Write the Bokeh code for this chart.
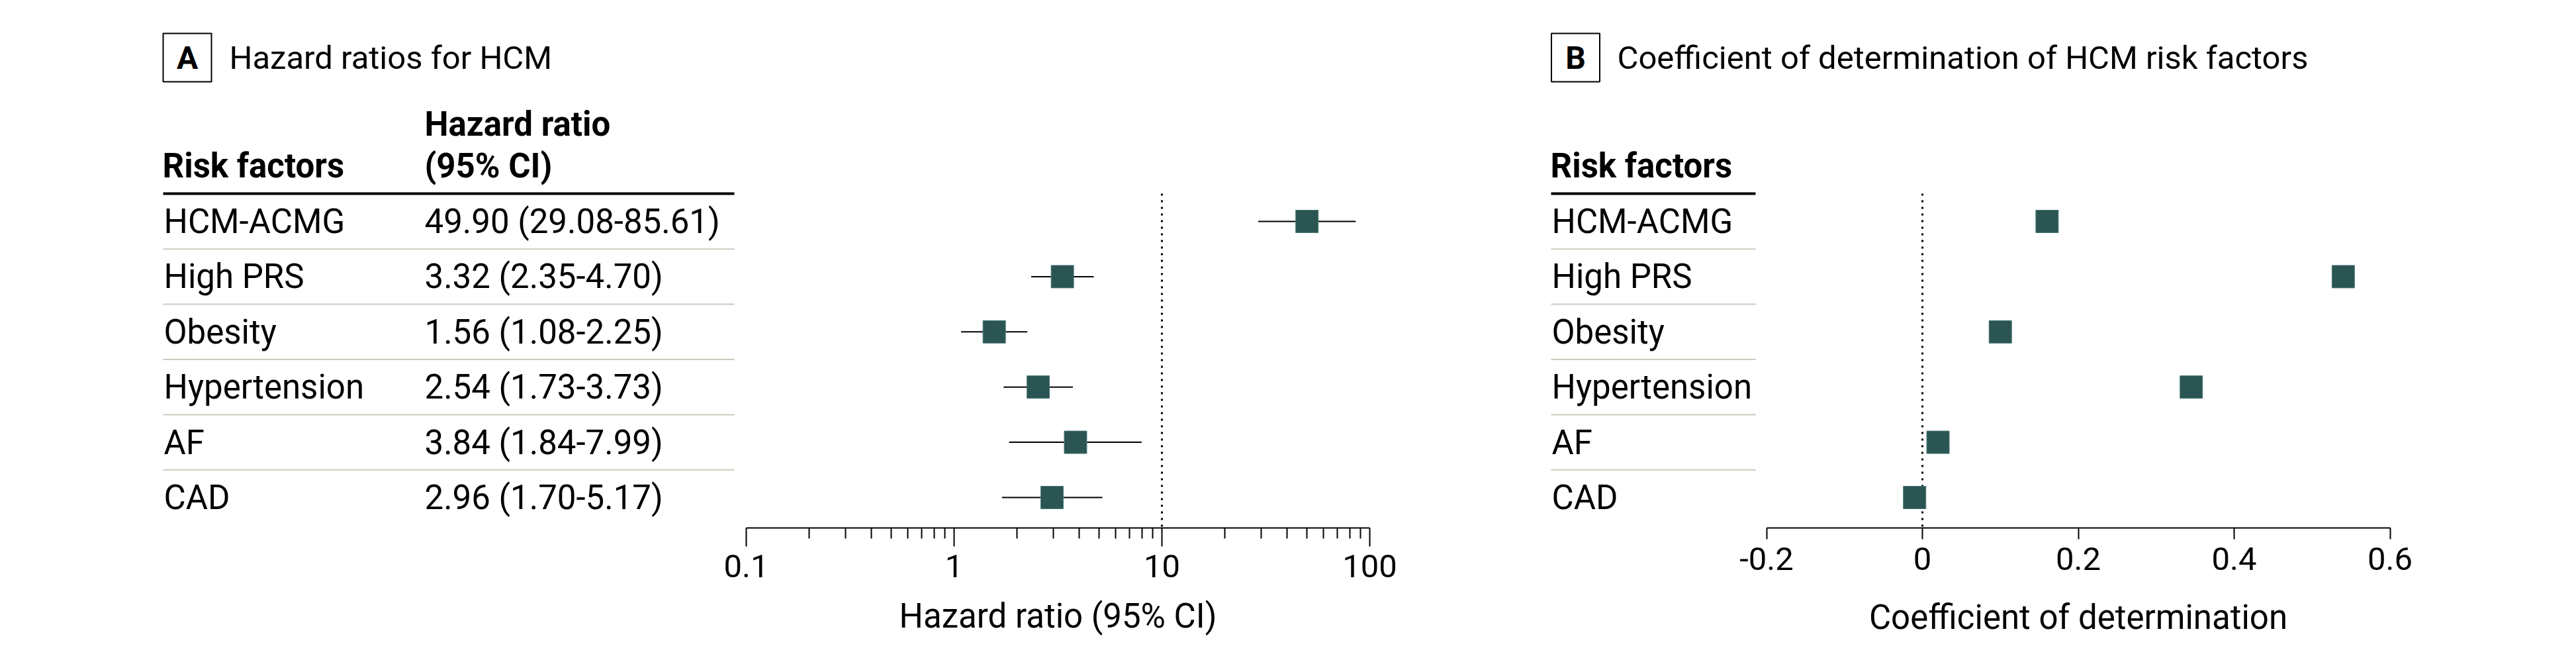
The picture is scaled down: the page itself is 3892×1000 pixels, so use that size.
import math
from bokeh.plotting import figure
from bokeh.models import Range1d, LogAxis, LinearAxis, FixedTicker
from bokeh.layouts import row
from bokeh.embed import file_html
from bokeh.resources import INLINE
from bokeh.core.properties import value

# ---------------- data ----------------
risk_factors = ["HCM-ACMG", "High PRS", "Obesity", "Hypertension", "AF", "CAD"]
hazard_ratio = [49.90, 3.32, 1.56, 2.54, 3.84, 2.96]
ci_lower = [29.08, 2.35, 1.08, 1.73, 1.84, 1.70]
ci_upper = [85.61, 4.70, 2.25, 3.73, 7.99, 5.17]
r2_values = [0.16, 0.54, 0.10, 0.345, 0.02, -0.01]

hr_ticks = [0.1, 1, 10, 100]
hr_tick_labels = ["0.1", "1", "10", "100"]
r2_ticks = [-0.2, 0, 0.2, 0.4, 0.6]
r2_tick_labels = ["-0.2", "0", "0.2", "0.4", "0.6"]

title_a = "Hazard ratios for HCM"
title_b = "Coefficient of determination of HCM risk factors"
xlabel_a = "Hazard ratio (95% CI)"
xlabel_b = "Coefficient of determination"
ref_a = 10
ref_b = 0

# ---------------- styling / layout ----------------
FONT = "Roboto"
FS = "51px"
TITLE_FS = "49px"
TEAL = "#2b5553"
TEAL_EDGE = "#4a7a77"
SEP = "#c9cbbe"

# the Bokeh page template has no body margin: the row starts at page (0, 0)
PAGE_X0, PAGE_Y0 = 0, 0
FIG_H = 992
A_W, B_W = 2250, 1620
ROW0_Y, ROW_H = 334, 83.4
AXIS_Y = 797

A_X01, DEC = 1127, 314          # page x of 0.1, pixels per decade
B_X0, B_UNIT = 2904, 1177.5     # page x of 0, pixels per unit


def ydat(py):
    return (py - ROW0_Y) / ROW_H


def ax(px):
    return 10 ** (-1 + (px - A_X01) / DEC)


def bx(px):
    return (px - B_X0) / B_UNIT


rows = list(range(len(risk_factors)))
hr_text = [f"{h:.2f} ({lo:.2f}-{hi:.2f})" for h, lo, hi in zip(hazard_ratio, ci_lower, ci_upper)]


def make_fig(width, x_range, log):
    kw = dict(width=width, height=FIG_H, x_range=x_range,
              y_range=Range1d(ydat(PAGE_Y0 + FIG_H), ydat(PAGE_Y0)),
              x_axis_location=None, y_axis_location=None,
              toolbar_location=None, output_backend="svg", title=None,
              min_border=0, outline_line_color=None,
              background_fill_color="white", border_fill_color="white")
    if log:
        kw["x_axis_type"] = "log"
    p = figure(**kw)
    p.grid.visible = False
    return p


def txt(p, x, y, t, size=FS, style="normal", align="left"):
    p.text(x=x, y=y, text=t, text_font=value(FONT), text_font_size=size,
           text_font_style=style, text_align=align, text_baseline="middle",
           text_color="black")


def style_axis(a, tick_out, minor_out):
    a.axis_line_width = 2
    a.axis_line_color = "black"
    a.major_tick_line_width = 2
    a.minor_tick_line_width = 2
    a.major_tick_in = 0
    a.minor_tick_in = 0
    a.major_tick_out = tick_out
    a.minor_tick_out = minor_out
    a.major_label_text_font = FONT
    a.major_label_text_font_size = "49px"
    a.major_label_text_color = "black"
    a.major_label_standoff = 12


# ================= Panel A =================
pa = make_fig(A_W, Range1d(ax(PAGE_X0), ax(PAGE_X0 + A_W)), True)

pa.rect(x=[ax(282.5)], y=[ydat(86.5)], width=73, height=73, width_units="screen",
        height_units="screen", fill_color=None, line_color="black", line_width=2)
txt(pa, [ax(282.5)], [ydat(86.5)], ["A"], size="48px", style="bold", align="center")
txt(pa, [ax(346)], [ydat(87)], [title_a], size=TITLE_FS)

txt(pa, [ax(245)], [ydat(250)], ["Risk factors"], style="bold")
txt(pa, [ax(641)], [ydat(187)], ["Hazard ratio"], style="bold")
txt(pa, [ax(641)], [ydat(250)], ["(95% CI)"], style="bold")
pa.segment(x0=[ax(246)], x1=[ax(1109)], y0=[ydat(292)], y1=[ydat(292)],
           line_color="black", line_width=4)

sep_y = [r + 0.5 for r in rows[:-1]]
pa.segment(x0=[ax(246)] * len(sep_y), x1=[ax(1109)] * len(sep_y), y0=sep_y, y1=sep_y,
           line_color=SEP, line_width=2)

txt(pa, [ax(247)] * len(rows), rows, risk_factors)
txt(pa, [ax(641)] * len(rows), rows, hr_text)

pa.segment(x0=[ref_a], x1=[ref_a], y0=[ydat(292)], y1=[ydat(AXIS_Y)],
           line_color="black", line_width=3, line_dash="3 7")

pa.segment(x0=ci_lower, x1=ci_upper, y0=rows, y1=rows, line_color="black", line_width=2)
pa.scatter(x=hazard_ratio, y=rows, marker="square", size=34,
           fill_color=TEAL, line_color=TEAL_EDGE, line_width=1)

hr_minor = [k * 10 ** e for e in (-1, 0, 1) for k in range(2, 10)]
axa = LogAxis(fixed_location=ydat(AXIS_Y), bounds=(hr_ticks[0], hr_ticks[-1]),
              ticker=FixedTicker(ticks=hr_ticks, minor_ticks=hr_minor),
              major_label_overrides={t: l for t, l in zip(hr_ticks, hr_tick_labels)})
style_axis(axa, 28, 16)
pa.add_layout(axa, "below")

txt(pa, [math.sqrt(hr_ticks[0] * hr_ticks[-1])], [ydat(930)], [xlabel_a], align="center")

# ================= Panel B =================
pb = make_fig(B_W, Range1d(bx(PAGE_X0 + A_W), bx(PAGE_X0 + A_W + B_W)), False)

pb.rect(x=[bx(2380)], y=[ydat(86.5)], width=73, height=73, width_units="screen",
        height_units="screen", fill_color=None, line_color="black", line_width=2)
txt(pb, [bx(2380)], [ydat(86.5)], ["B"], size="48px", style="bold", align="center")
txt(pb, [bx(2443)], [ydat(87)], [title_b], size=TITLE_FS)

txt(pb, [bx(2342)], [ydat(250)], ["Risk factors"], style="bold")
pb.segment(x0=[bx(2343)], x1=[bx(2652)], y0=[ydat(292)], y1=[ydat(292)],
           line_color="black", line_width=4)
pb.segment(x0=[bx(2343)] * len(sep_y), x1=[bx(2652)] * len(sep_y), y0=sep_y, y1=sep_y,
           line_color=SEP, line_width=2)
txt(pb, [bx(2344)] * len(rows), rows, risk_factors)

pb.segment(x0=[ref_b], x1=[ref_b], y0=[ydat(292)], y1=[ydat(AXIS_Y)],
           line_color="black", line_width=3, line_dash="3 7")
pb.scatter(x=r2_values, y=rows, marker="square", size=34,
           fill_color=TEAL, line_color=TEAL_EDGE, line_width=1)

axb = LinearAxis(fixed_location=ydat(AXIS_Y), bounds=(r2_ticks[0], r2_ticks[-1]),
                 ticker=FixedTicker(ticks=r2_ticks, minor_ticks=[]),
                 major_label_overrides={t: l for t, l in zip(r2_ticks, r2_tick_labels)})
style_axis(axb, 17, 0)
pb.add_layout(axb, "below")

txt(pb, [(r2_ticks[0] + r2_ticks[-1]) / 2], [ydat(932)], [xlabel_b], align="center")

layout = row(pa, pb)
open("out.html", "w").write(file_html(layout, INLINE))
